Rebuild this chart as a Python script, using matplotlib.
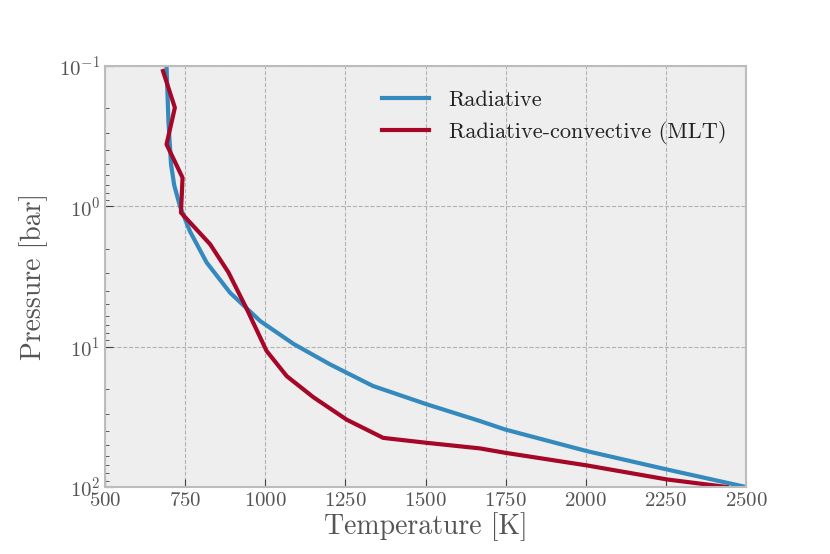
import numpy as np
import matplotlib
matplotlib.use('Agg')
import matplotlib.pyplot as plt

plt.style.use('bmh')
plt.rcParams['font.family'] = 'serif'
plt.rcParams['font.serif'] = ['cmr10']
plt.rcParams['mathtext.fontset'] = 'cm'
plt.rcParams['axes.formatter.use_mathtext'] = True
plt.rcParams['axes.unicode_minus'] = False

# Temperature-pressure profiles
rad_T = [692, 698, 706, 716, 734, 765, 817, 890, 984, 1088, 1202, 1336, 1503, 1670,
         1748, 2003, 2253, 2500]
rad_logP = [-1.0, -0.6, -0.3, -0.15, 0.0, 0.178, 0.40, 0.615, 0.817, 0.98, 1.126,
            1.28, 1.41, 1.53, 1.59, 1.744, 1.875, 2.0]

mlt_T = [681, 718, 692, 742, 737, 828, 885, 942, 1004, 1067, 1150, 1254, 1368,
         1503, 1670, 1748, 2003, 2253, 2440]
mlt_logP = [-0.964, -0.703, -0.442, -0.204, 0.045, 0.27, 0.47, 0.73, 1.03, 1.21,
            1.36, 1.52, 1.65, 1.685, 1.725, 1.756, 1.846, 1.946, 2.0]

rad_P = 10 ** np.array(rad_logP)
mlt_P = 10 ** np.array(mlt_logP)

fig = plt.figure(figsize=(8.3, 5.54), dpi=100)
ax = fig.add_axes([105 / 830, 1 - 487 / 554, 641 / 830, 421 / 554])

ax.plot(rad_T, rad_P, color='#348ABD', lw=3, label='Radiative')
ax.plot(mlt_T, mlt_P, color='#A60628', lw=3, label='Radiative-convective (MLT)')

ax.set_yscale('log')
ax.set_ylim(100, 0.1)
ax.set_xlim(500, 2500)
ax.set_xticks(np.arange(500, 2501, 250))

ax.set_xlabel('Temperature [K]', fontsize=20, color='#555555', labelpad=2)
ax.set_ylabel('Pressure [bar]', fontsize=20, color='#555555', labelpad=8)
ax.tick_params(axis='both', which='both', labelsize=15, labelcolor='#555555',
               direction='in', color='#444444')
ax.tick_params(axis='both', which='major', length=6)
ax.tick_params(axis='y', which='minor', length=3)
ax.grid(True, which='major', linestyle='--', color='#b2b2b2', lw=0.8)
ax.grid(False, which='minor')
for s in ax.spines.values():
    s.set_color('#bcbcbc')
    s.set_linewidth(1.5)

leg = ax.legend(loc='upper right', frameon=False, fontsize=16, handlelength=2.1,
                handletextpad=0.9, labelspacing=0.5, bbox_to_anchor=(1.0, 0.99))
for t in leg.get_texts():
    t.set_color('#222222')

fig.savefig('out.png', dpi=100)
